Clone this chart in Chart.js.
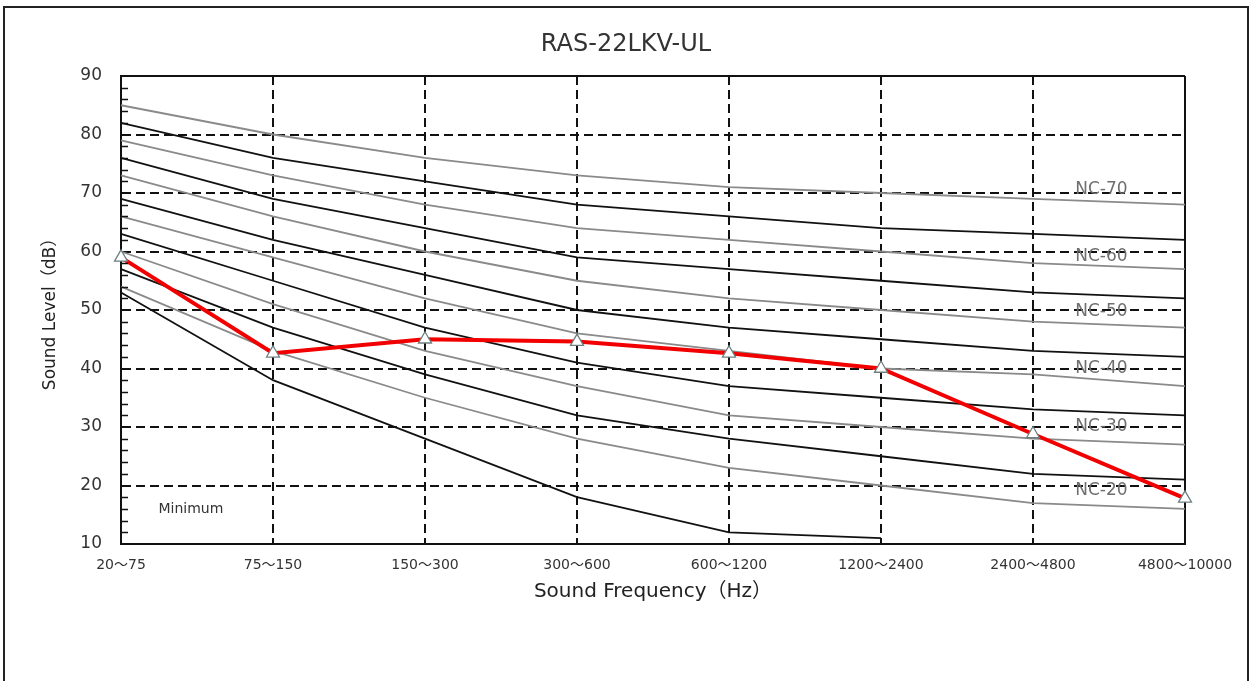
<!DOCTYPE html>
<html>
<head>
<meta charset="utf-8">
<script src="https://cdn.jsdelivr.net/npm/chart.js@4"></script>
<style>
  body { margin: 0; background: #fff; overflow: hidden; }
  #wrap { position: relative; width: 1252px; height: 681px; }
  #frame { position: absolute; left: 3px; top: 6px; width: 1242px; height: 700px; border: 2px solid #222; }
  canvas { position: absolute; left: 0; top: 0; }
</style>
</head>
<body>
<div id="wrap">
  <div id="frame"></div>
  <canvas id="ncChart" width="1252" height="681"></canvas>
</div>
<script>
// octave bands (Hz)
const frequencyBands = ["20〜75", "75〜150", "150〜300", "300〜600", "600〜1200", "1200〜2400", "2400〜4800", "4800〜10000"];

// NC reference curves
const nc70 = [85, 80, 76, 73, 71, 70, 69, 68];
const nc65 = [82, 76, 72, 68, 66, 64, 63, 62];
const nc60 = [79, 73, 68, 64, 62, 60, 58, 57];
const nc55 = [76, 69, 64, 59, 57, 55, 53, 52];
const nc50 = [73, 66, 60, 55, 52, 50, 48, 47];
const nc45 = [69, 62, 56, 50, 47, 45, 43, 42];
const nc40 = [66, 59, 52, 46, 43, 40, 39, 37];
const nc35 = [63, 55, 47, 41, 37, 35, 33, 32];
const nc30 = [60, 51, 43, 37, 32, 30, 28, 27];
const nc25 = [57, 47, 39, 32, 28, 25, 22, 21];
const nc20 = [54, 43, 35, 28, 23, 20, 17, 16];
const minimumAudible = [53, 38, 28, 18, 12, 11, null, null];

// measured unit
const unitName = "RAS-22LKV-UL";
const measured = [59, 42.6, 45, 44.6, 42.6, 40, 28.8, 17.8];

// axis ticks
const yMin = 10;
const yMax = 90;
const yMinorStep = 2;
const yMajorStep = 10;

// curve labels at right side
const ncLabelText = ["NC-70", "NC-60", "NC-50", "NC-40", "NC-30", "NC-20"];
const ncLabelLevel = [70.5, 59.2, 49.7, 40, 30, 19.1];

const FONT = "'DejaVu Sans', 'Noto Sans CJK JP', sans-serif";

function ncDataset(label, data, gray) {
  return {
    label: label,
    data: data,
    borderColor: gray ? "#8a8a8a" : "#111",
    borderWidth: gray ? 1.8 : 1.8,
    pointRadius: 0,
    tension: 0,
    spanGaps: false,
  };
}

const ncOverlay = {
  id: "ncOverlay",
  afterDatasetsDraw(chart) {
    const ctx = chart.ctx;
    const x = chart.scales.x;
    const y = chart.scales.y;
    const area = chart.chartArea;

    // inward minor ticks on the level axis
    ctx.save();
    ctx.strokeStyle = "#111";
    ctx.lineWidth = 1.5;
    for (let v = yMin + yMinorStep; v < yMax; v += yMinorStep) {
      if (v % yMajorStep === 0) continue;
      const py = Math.round(y.getPixelForValue(v)) + 0.5;
      ctx.beginPath();
      ctx.moveTo(area.left, py);
      ctx.lineTo(area.left + 7, py);
      ctx.stroke();
    }
    ctx.restore();

    // NC labels between the last two bands
    const last = frequencyBands.length - 1;
    const lx = x.getPixelForValue(last - 1) + 0.45 * (x.getPixelForValue(last) - x.getPixelForValue(last - 1));
    ctx.save();
    ctx.font = "17px " + FONT;
    ctx.fillStyle = "#6f6f6f";
    ctx.textAlign = "center";
    ctx.textBaseline = "middle";
    ncLabelText.forEach((t, i) => {
      ctx.fillText(t, lx, y.getPixelForValue(ncLabelLevel[i]));
    });

    // threshold curve label
    ctx.font = "14px " + FONT;
    ctx.fillStyle = "#333";
    const mx = x.getPixelForValue(0) + 0.46 * (x.getPixelForValue(1) - x.getPixelForValue(0));
    ctx.fillText("Minimum", mx, y.getPixelForValue(16));

    // title, centred on the whole sheet
    ctx.font = "24px " + FONT;
    ctx.fillStyle = "#333";
    ctx.fillText(unitName, chart.width / 2, 45);
    ctx.restore();
  },
};

const chart = new Chart(document.getElementById("ncChart"), {
  type: "line",
  data: {
    labels: frequencyBands,
    datasets: [
      {
        label: unitName,
        data: measured,
        borderColor: "#f20000",
        borderWidth: 4,
        pointStyle: "triangle",
        pointRadius: 7.5,
        pointBackgroundColor: "#ffffff",
        pointBorderColor: "#6f7f80",
        pointBorderWidth: 1.3,
        tension: 0,
      },
      ncDataset("NC-70", nc70, true),
      ncDataset("NC-65", nc65, false),
      ncDataset("NC-60", nc60, true),
      ncDataset("NC-55", nc55, false),
      ncDataset("NC-50", nc50, true),
      ncDataset("NC-45", nc45, false),
      ncDataset("NC-40", nc40, true),
      ncDataset("NC-35", nc35, false),
      ncDataset("NC-30", nc30, true),
      ncDataset("NC-25", nc25, false),
      ncDataset("NC-20", nc20, true),
      ncDataset("Minimum", minimumAudible, false),
    ],
  },
  options: {
    responsive: false,
    animation: false,
    layout: {
      padding: { left: 0, right: 67, top: 76, bottom: 77 },
    },
    plugins: {
      legend: { display: false },
      tooltip: { enabled: false },
      title: { display: false },
    },
    scales: {
      x: {
        afterFit: (scale) => { scale.height = 60; },
        grid: {
          color: "#111",
          lineWidth: 2,
          drawTicks: false,
        },
        border: {
          display: true,
          color: "#111",
          width: 2,
          dash: (ctx) => (ctx.index === 0 || ctx.index === frequencyBands.length - 1) ? [] : [9, 5],
        },
        ticks: {
          color: "#333",
          font: { family: FONT, size: 14 },
          padding: 13,
          maxRotation: 0,
          autoSkip: false,
        },
        title: {
          display: true,
          text: "Sound Frequency（Hz）",
          color: "#222",
          font: { family: FONT, size: 20 },
          padding: { top: 0, bottom: 0 },
        },
      },
      y: {
        min: yMin,
        max: yMax,
        afterFit: (scale) => { scale.width = 121; },
        grid: {
          color: (ctx) => (ctx.tick && ctx.tick.value % yMajorStep === 0) ? "#111" : "rgba(0,0,0,0)",
          lineWidth: 2,
          drawTicks: false,
        },
        border: {
          display: true,
          color: "#111",
          width: 2,
          dash: (ctx) => (ctx.tick && (ctx.tick.value === yMax || ctx.tick.value === yMin)) ? [] : [9, 5],
        },
        ticks: {
          stepSize: yMinorStep,
          autoSkip: false,
          color: "#333",
          font: { family: FONT, size: 17 },
          padding: 19,
          callback: (v) => (v % yMajorStep === 0 ? v : ""),
        },
        title: {
          display: true,
          text: "Sound Level（dB）",
          color: "#222",
          font: { family: FONT, size: 17 },
          padding: { top: 40, bottom: 0 },
        },
      },
    },
  },
  plugins: [ncOverlay],
});
</script>
</body>
</html>
